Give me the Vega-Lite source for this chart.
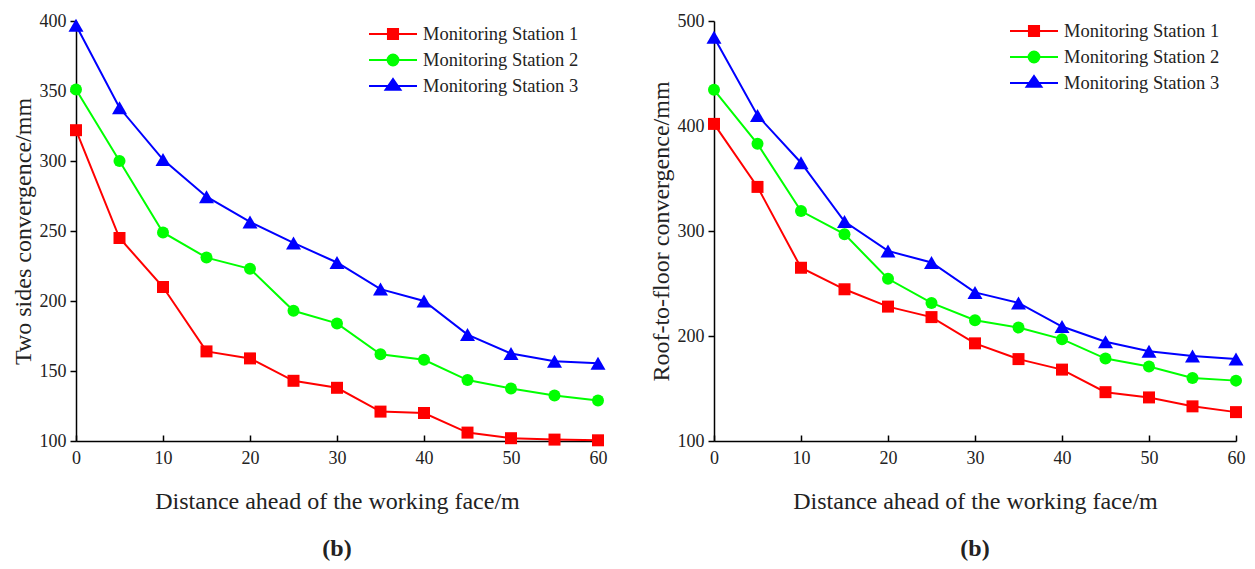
{
  "$schema": "https://vega.github.io/schema/vega-lite/v6.json",
  "background": "white",
  "padding": {"left": 11, "top": 12, "right": 5, "bottom": 5},
  "bounds": "flush",
  "spacing": 116,
  "config": {
    "font": "Liberation Serif",
    "view": {"stroke": null},
    "axis": {
      "grid": false,
      "labelFlush": false,
      "domainColor": "#000000",
      "domainWidth": 1.5,
      "tickColor": "#000000",
      "tickWidth": 1.5,
      "labelFont": "Liberation Serif",
      "labelFontSize": 18,
      "labelColor": "#222222",
      "titleFont": "Liberation Serif",
      "titleFontSize": 24,
      "titleFontWeight": "normal",
      "titleColor": "#222222"
    },
    "axisX": {"tickSize": -6, "labelPadding": 14, "titlePadding": 22},
    "axisY": {"tickSize": 6, "labelPadding": 4, "titlePadding": 4},
    "title": {"font": "Liberation Serif", "fontSize": 24, "fontWeight": "bold", "color": "#222222"},
    "legend": {
      "orient": "none",
      "padding": 0,
      "symbolSize": 576,
      "symbolStrokeWidth": 2,
      "symbolOpacity": 1,
      "rowPadding": 3,
      "labelOffset": 17,
      "labelFont": "Liberation Serif",
      "labelFontSize": 18.5,
      "labelColor": "#222222",
      "labelLimit": 400,
      "title": null
    }
  },
  "datasets": {
    "sides": [
      {"distance": 0, "station": "Monitoring Station 1", "value": 322},
      {"distance": 5, "station": "Monitoring Station 1", "value": 245},
      {"distance": 10, "station": "Monitoring Station 1", "value": 210},
      {"distance": 15, "station": "Monitoring Station 1", "value": 164},
      {"distance": 20, "station": "Monitoring Station 1", "value": 159},
      {"distance": 25, "station": "Monitoring Station 1", "value": 143},
      {"distance": 30, "station": "Monitoring Station 1", "value": 138},
      {"distance": 35, "station": "Monitoring Station 1", "value": 121},
      {"distance": 40, "station": "Monitoring Station 1", "value": 120},
      {"distance": 45, "station": "Monitoring Station 1", "value": 106},
      {"distance": 50, "station": "Monitoring Station 1", "value": 102},
      {"distance": 55, "station": "Monitoring Station 1", "value": 101},
      {"distance": 60, "station": "Monitoring Station 1", "value": 100.5},
      {"distance": 0, "station": "Monitoring Station 2", "value": 351},
      {"distance": 5, "station": "Monitoring Station 2", "value": 300},
      {"distance": 10, "station": "Monitoring Station 2", "value": 249},
      {"distance": 15, "station": "Monitoring Station 2", "value": 231},
      {"distance": 20, "station": "Monitoring Station 2", "value": 223},
      {"distance": 25, "station": "Monitoring Station 2", "value": 193},
      {"distance": 30, "station": "Monitoring Station 2", "value": 184},
      {"distance": 35, "station": "Monitoring Station 2", "value": 162},
      {"distance": 40, "station": "Monitoring Station 2", "value": 158},
      {"distance": 45, "station": "Monitoring Station 2", "value": 143.5},
      {"distance": 50, "station": "Monitoring Station 2", "value": 137.5},
      {"distance": 55, "station": "Monitoring Station 2", "value": 132.5},
      {"distance": 60, "station": "Monitoring Station 2", "value": 129},
      {"distance": 0, "station": "Monitoring Station 3", "value": 397},
      {"distance": 5, "station": "Monitoring Station 3", "value": 338},
      {"distance": 10, "station": "Monitoring Station 3", "value": 301},
      {"distance": 15, "station": "Monitoring Station 3", "value": 274.5},
      {"distance": 20, "station": "Monitoring Station 3", "value": 256.5},
      {"distance": 25, "station": "Monitoring Station 3", "value": 241.5},
      {"distance": 30, "station": "Monitoring Station 3", "value": 227.5},
      {"distance": 35, "station": "Monitoring Station 3", "value": 208.5},
      {"distance": 40, "station": "Monitoring Station 3", "value": 200},
      {"distance": 45, "station": "Monitoring Station 3", "value": 176},
      {"distance": 50, "station": "Monitoring Station 3", "value": 162.5},
      {"distance": 55, "station": "Monitoring Station 3", "value": 157},
      {"distance": 60, "station": "Monitoring Station 3", "value": 155.5}
    ],
    "roof": [
      {"distance": 0, "station": "Monitoring Station 1", "value": 402},
      {"distance": 5, "station": "Monitoring Station 1", "value": 342},
      {"distance": 10, "station": "Monitoring Station 1", "value": 265},
      {"distance": 15, "station": "Monitoring Station 1", "value": 244.5},
      {"distance": 20, "station": "Monitoring Station 1", "value": 228},
      {"distance": 25, "station": "Monitoring Station 1", "value": 218},
      {"distance": 30, "station": "Monitoring Station 1", "value": 193},
      {"distance": 35, "station": "Monitoring Station 1", "value": 178},
      {"distance": 40, "station": "Monitoring Station 1", "value": 168},
      {"distance": 45, "station": "Monitoring Station 1", "value": 146.5},
      {"distance": 50, "station": "Monitoring Station 1", "value": 141.5},
      {"distance": 55, "station": "Monitoring Station 1", "value": 133},
      {"distance": 60, "station": "Monitoring Station 1", "value": 127.5},
      {"distance": 0, "station": "Monitoring Station 2", "value": 434.5},
      {"distance": 5, "station": "Monitoring Station 2", "value": 383},
      {"distance": 10, "station": "Monitoring Station 2", "value": 319},
      {"distance": 15, "station": "Monitoring Station 2", "value": 297},
      {"distance": 20, "station": "Monitoring Station 2", "value": 254.5},
      {"distance": 25, "station": "Monitoring Station 2", "value": 231.5},
      {"distance": 30, "station": "Monitoring Station 2", "value": 215},
      {"distance": 35, "station": "Monitoring Station 2", "value": 208},
      {"distance": 40, "station": "Monitoring Station 2", "value": 197},
      {"distance": 45, "station": "Monitoring Station 2", "value": 178.5},
      {"distance": 50, "station": "Monitoring Station 2", "value": 171},
      {"distance": 55, "station": "Monitoring Station 2", "value": 160},
      {"distance": 60, "station": "Monitoring Station 2", "value": 157.5},
      {"distance": 0, "station": "Monitoring Station 3", "value": 484.5},
      {"distance": 5, "station": "Monitoring Station 3", "value": 410},
      {"distance": 10, "station": "Monitoring Station 3", "value": 365},
      {"distance": 15, "station": "Monitoring Station 3", "value": 309},
      {"distance": 20, "station": "Monitoring Station 3", "value": 281},
      {"distance": 25, "station": "Monitoring Station 3", "value": 270},
      {"distance": 30, "station": "Monitoring Station 3", "value": 241.5},
      {"distance": 35, "station": "Monitoring Station 3", "value": 231.5},
      {"distance": 40, "station": "Monitoring Station 3", "value": 209},
      {"distance": 45, "station": "Monitoring Station 3", "value": 194.5},
      {"distance": 50, "station": "Monitoring Station 3", "value": 185.5},
      {"distance": 55, "station": "Monitoring Station 3", "value": 181},
      {"distance": 60, "station": "Monitoring Station 3", "value": 178}
    ]
  },
  "resolve": {
    "scale": {"color": "independent"},
    "legend": {"color": "independent"}
  },
  "hconcat": [
    {
      "width": 522,
      "height": 420,
      "title": {"text": "(b)", "orient": "bottom", "anchor": "middle", "offset": 24},
      "data": {"name": "sides"},
      "encoding": {
        "x": {
          "field": "distance", "type": "quantitative",
          "scale": {"domain": [0, 60], "nice": false},
          "axis": {"values": [0, 10, 20, 30, 40, 50, 60], "title": "Distance ahead of the working face/m"}
        },
        "y": {
          "field": "value", "type": "quantitative",
          "scale": {"domain": [100, 400], "nice": false, "zero": false},
          "axis": {"values": [100, 150, 200, 250, 300, 350, 400], "title": "Two sides convergence/mm"}
        },
        "color": {
          "field": "station", "type": "nominal",
          "scale": {"domain": ["Monitoring Station 1", "Monitoring Station 2", "Monitoring Station 3"], "range": ["#ff0000", "#00ff00", "#0000ff"]},
          "legend": {
            "legendX": 304, "legendY": 0,
            "encode": {"symbols": {"update": {
              "shape": {"signal": "datum.value === 'Monitoring Station 1' ? 'M-2,0H2M-0.42,-0.42H0.42V0.42H-0.42Z' : datum.value === 'Monitoring Station 2' ? 'M-2,0H2M0.45,0A0.45,0.45,0,1,1,-0.45,0A0.45,0.45,0,1,1,0.45,0Z' : 'M-2,0H2M0,-0.58L0.62,0.32L-0.62,0.32Z'"},
              "fill": {"signal": "datum.value === 'Monitoring Station 1' ? '#ff0000' : datum.value === 'Monitoring Station 2' ? '#00ff00' : '#0000ff'"},
              "stroke": {"signal": "datum.value === 'Monitoring Station 1' ? '#ff0000' : datum.value === 'Monitoring Station 2' ? '#00ff00' : '#0000ff'"},
              "strokeWidth": {"value": 2},
              "size": {"value": 576},
              "opacity": {"value": 1}
            }}}
          }
        }
      },
      "layer": [
        {"mark": {"type": "line", "strokeWidth": 2}},
        {
          "transform": [{"filter": "datum.station === 'Monitoring Station 1'"}],
          "mark": {"type": "point", "shape": "square", "size": 144, "filled": true, "opacity": 1}
        },
        {
          "transform": [{"filter": "datum.station === 'Monitoring Station 2'"}],
          "mark": {"type": "point", "shape": "circle", "size": 144, "filled": true, "opacity": 1}
        },
        {
          "transform": [{"filter": "datum.station === 'Monitoring Station 3'"}],
          "mark": {"type": "point", "shape": "triangle-up", "size": 225, "filled": true, "opacity": 1}
        }
      ]
    },
    {
      "width": 522,
      "height": 420,
      "title": {"text": "(b)", "orient": "bottom", "anchor": "middle", "offset": 24},
      "data": {"name": "roof"},
      "encoding": {
        "x": {
          "field": "distance", "type": "quantitative",
          "scale": {"domain": [0, 60], "nice": false},
          "axis": {"values": [0, 10, 20, 30, 40, 50, 60], "title": "Distance ahead of the working face/m"}
        },
        "y": {
          "field": "value", "type": "quantitative",
          "scale": {"domain": [100, 500], "nice": false, "zero": false},
          "axis": {"values": [100, 200, 300, 400, 500], "title": "Roof-to-floor convergence/mm"}
        },
        "color": {
          "field": "station", "type": "nominal",
          "scale": {"domain": ["Monitoring Station 1", "Monitoring Station 2", "Monitoring Station 3"], "range": ["#ff0000", "#00ff00", "#0000ff"]},
          "legend": {
            "legendX": 307, "legendY": -3,
            "encode": {"symbols": {"update": {
              "shape": {"signal": "datum.value === 'Monitoring Station 1' ? 'M-2,0H2M-0.42,-0.42H0.42V0.42H-0.42Z' : datum.value === 'Monitoring Station 2' ? 'M-2,0H2M0.45,0A0.45,0.45,0,1,1,-0.45,0A0.45,0.45,0,1,1,0.45,0Z' : 'M-2,0H2M0,-0.58L0.62,0.32L-0.62,0.32Z'"},
              "fill": {"signal": "datum.value === 'Monitoring Station 1' ? '#ff0000' : datum.value === 'Monitoring Station 2' ? '#00ff00' : '#0000ff'"},
              "stroke": {"signal": "datum.value === 'Monitoring Station 1' ? '#ff0000' : datum.value === 'Monitoring Station 2' ? '#00ff00' : '#0000ff'"},
              "strokeWidth": {"value": 2},
              "size": {"value": 576},
              "opacity": {"value": 1}
            }}}
          }
        }
      },
      "layer": [
        {"mark": {"type": "line", "strokeWidth": 2}},
        {
          "transform": [{"filter": "datum.station === 'Monitoring Station 1'"}],
          "mark": {"type": "point", "shape": "square", "size": 144, "filled": true, "opacity": 1}
        },
        {
          "transform": [{"filter": "datum.station === 'Monitoring Station 2'"}],
          "mark": {"type": "point", "shape": "circle", "size": 144, "filled": true, "opacity": 1}
        },
        {
          "transform": [{"filter": "datum.station === 'Monitoring Station 3'"}],
          "mark": {"type": "point", "shape": "triangle-up", "size": 225, "filled": true, "opacity": 1}
        }
      ]
    }
  ]
}
